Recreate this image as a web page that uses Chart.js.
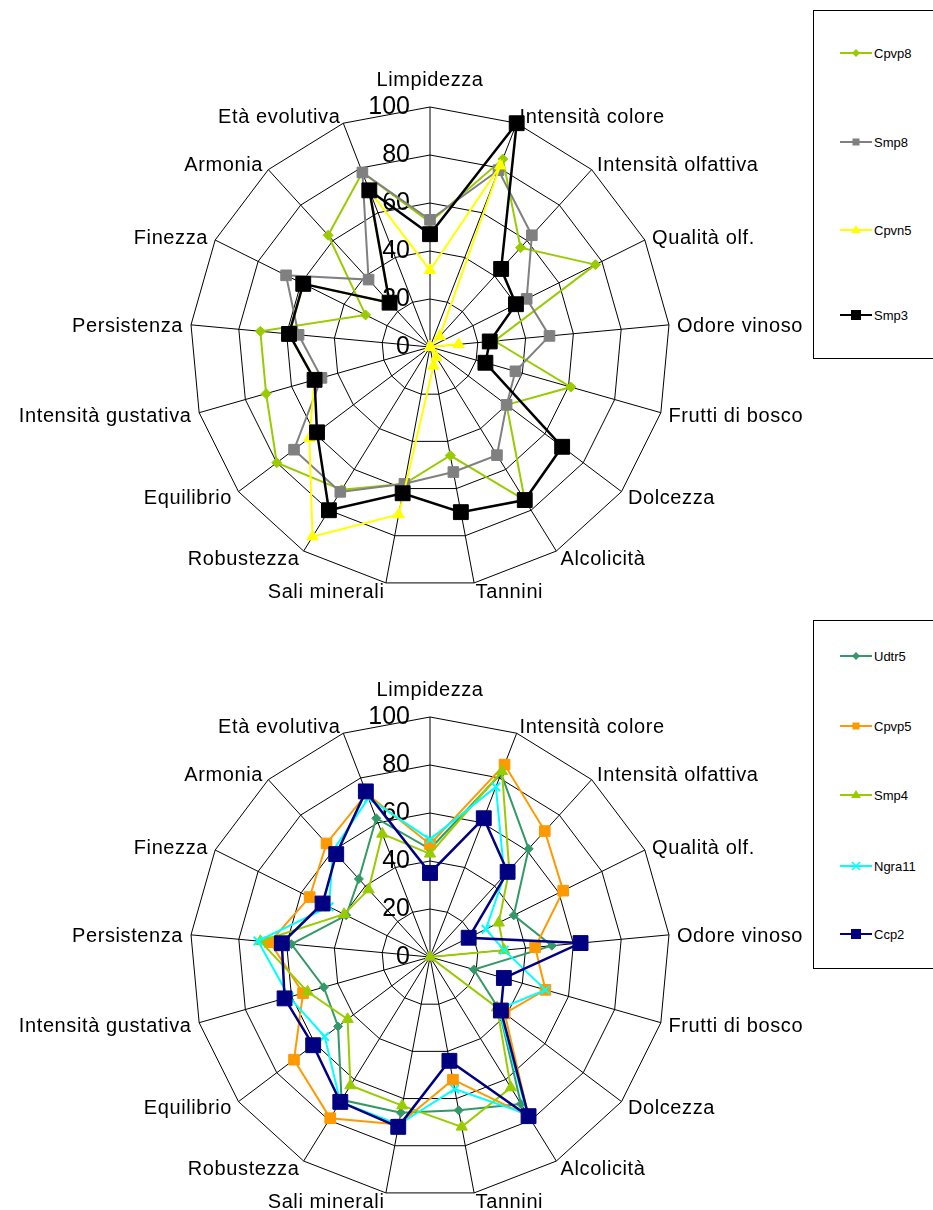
<!DOCTYPE html>
<html>
<head>
<meta charset="utf-8">
<script src="https://cdn.jsdelivr.net/npm/chart.js@4"></script>
<style>
  html, body { margin: 0; padding: 0; background: #fff; overflow: hidden; }
  body { width: 933px; height: 1210px; position: relative; font-family: "Liberation Sans", Arial, sans-serif; }
  canvas { position: absolute; left: 0; }
  .legend { position: absolute; left: 813px; width: 160px; border: 1px solid #000; background: #fff; }
  .item { position: absolute; left: 26px; height: 16px; display: flex; align-items: center; font-size: 13px; color: #000; }
  .item svg { margin-right: 2px; }
</style>
</head>
<body>
<canvas id="top-chart" width="933" height="605" style="top:0"></canvas>
<canvas id="bottom-chart" width="933" height="605" style="top:605px"></canvas>
<div class="legend" id="legend-top" style="top:10px;height:347px"></div>
<div class="legend" id="legend-bottom" style="top:620px;height:347px"></div>

<script>
// axes of the radar, clockwise from the top
const categories = ['Limpidezza', 'Intensità colore', 'Intensità olfattiva', 'Qualità olf.', 'Odore vinoso',
  'Frutti di bosco', 'Dolcezza', 'Alcolicità', 'Tannini', 'Sali minerali', 'Robustezza', 'Equilibrio',
  'Intensità gustativa', 'Persistenza', 'Finezza', 'Armonia', 'Età evolutiva'];
const tickValues = [0, 20, 40, 60, 80, 100];

// top chart
const cpvp8 = [52, 84, 56, 77, 27, 61, 40, 75, 46, 58, 70, 80, 71, 71, 30, 63, 78];
const smp8  = [53, 79, 63, 45, 50, 37, 40, 53, 53, 58, 71, 71, 47, 55, 67, 38, 78];
const cpvn5 = [32, 81, 6, 0, 12, 0, 0, 5, 8, 71, 93, 63, 50, 59, 59, 25, 70];
const smp3  = [47, 100, 44, 40, 25, 24, 69, 75, 70, 62, 80, 59, 50, 59, 59, 25, 70];

// bottom chart
const udtr5  = [45, 82, 61, 39, 51, 19, 36, 72, 65, 66, 70, 48, 46, 58, 39, 44, 62];
const cpvp5  = [47, 86, 71, 62, 44, 50, 39, 78, 52, 71, 79, 71, 55, 67, 56, 64, 73];
const smp4   = [43, 83, 49, 32, 31, 0, 35, 64, 72, 63, 63, 43, 53, 71, 40, 38, 55];
const ngra11 = [49, 76, 46, 26, 31, 50, 36, 77, 56, 71, 71, 55, 61, 72, 47, 60, 71];
const ccp2   = [35, 62, 48, 18, 63, 32, 37, 78, 44, 72, 71, 61, 63, 62, 50, 58, 74];

const topSeries = [
  { name: 'Cpvp8', data: cpvp8, color: '#99cc00', style: 'rectRot', r: 5, w: 2 },
  { name: 'Smp8', data: smp8, color: '#808080', style: 'rect', r: 7.5, w: 2 },
  { name: 'Cpvn5', data: cpvn5, color: '#ffff00', style: 'triangle', r: 6.5, w: 2 },
  { name: 'Smp3', data: smp3, color: '#000000', style: 'rect', r: 10.5, w: 2.5 }
];
const bottomSeries = [
  { name: 'Udtr5', data: udtr5, color: '#339966', style: 'rectRot', r: 4.5, w: 2 },
  { name: 'Cpvp5', data: cpvp5, color: '#ff9900', style: 'rect', r: 7.5, w: 2 },
  { name: 'Smp4', data: smp4, color: '#99cc00', style: 'triangle', r: 6.5, w: 2 },
  { name: 'Ngra11', data: ngra11, color: '#00ffff', style: 'crossRot', r: 6, w: 2 },
  { name: 'Ccp2', data: ccp2, color: '#000080', style: 'rect', r: 10.5, w: 2.5 }
];

// axis names and the 0..100 ticks, drawn under the series
const axisText = {
  id: 'axisText',
  beforeDatasetsDraw(chart) {
    const s = chart.scales.r;
    const ctx = chart.ctx;
    ctx.save();
    ctx.fillStyle = '#000';
    ctx.textBaseline = 'middle';
    ctx.font = '20px "Liberation Sans", Arial, sans-serif';
    ctx.letterSpacing = '0.6px';
    categories.forEach((lab, i) => {
      const p = s.getPointPosition(i, s.drawingArea + 8);
      const dx = p.x - s.xCenter;
      ctx.textAlign = Math.abs(dx) < 4 ? 'center' : (dx > 0 ? 'left' : 'right');
      ctx.fillText(lab, p.x, i === 0 ? p.y - 19 : p.y + 2);
    });
    ctx.letterSpacing = '0px';
    ctx.font = '25px "Liberation Sans", Arial, sans-serif';
    ctx.textAlign = 'right';
    tickValues.forEach(v => {
      ctx.fillText(String(v), s.xCenter - 20, s.yCenter - s.getDistanceFromCenterForValue(v));
    });
    ctx.restore();
  }
};

function makeRadar(id, series, pad) {
  const n = series.length;
  return new Chart(document.getElementById(id), {
    type: 'radar',
    data: {
      labels: categories,
      datasets: series.map((s, i) => ({
        label: s.name,
        data: s.data,
        order: n - i,
        borderColor: s.color,
        backgroundColor: s.color,
        borderWidth: s.w,
        fill: false,
        tension: 0,
        pointStyle: s.style,
        pointRadius: s.r,
        pointBorderWidth: s.style === 'crossRot' ? 2 : 1,
        pointBorderColor: s.color,
        pointBackgroundColor: s.color
      }))
    },
    options: {
      responsive: false,
      animation: false,
      events: [],
      layout: { padding: pad },
      plugins: { legend: { display: false }, tooltip: { enabled: false } },
      scales: {
        r: {
          min: 0,
          max: 100,
          ticks: { stepSize: 20, display: false },
          grid: { color: '#000', lineWidth: 1 },
          angleLines: { color: '#000', lineWidth: 1 },
          pointLabels: { display: false }
        }
      }
    },
    plugins: [axisText]
  });
}

function markerSvg(s) {
  const c = s.color;
  let m = '';
  if (s.style === 'rect') {
    const h = s.r > 9 ? 5 : 3.5;
    m = `<rect x="${16 - h}" y="${8 - h}" width="${2 * h}" height="${2 * h}" fill="${c}"/>`;
  } else if (s.style === 'rectRot') {
    m = `<polygon points="16,4 20,8 16,12 12,8" fill="${c}"/>`;
  } else if (s.style === 'triangle') {
    m = `<polygon points="16,3 21,11 11,11" fill="${c}"/>`;
  } else {
    m = `<path d="M12,4 L20,12 M20,4 L12,12" stroke="${c}" stroke-width="1.5"/>`;
  }
  return `<svg width="32" height="16"><line x1="0" y1="8" x2="32" y2="8" stroke="${c}" stroke-width="2"/>${m}</svg>`;
}

function makeLegend(id, series, rows) {
  const box = document.getElementById(id);
  series.forEach((s, i) => {
    const d = document.createElement('div');
    d.className = 'item';
    d.style.top = (rows[i] - 8) + 'px';
    d.innerHTML = markerSvg(s) + '<span>' + s.name + '</span>';
    box.appendChild(d);
  });
}

makeRadar('top-chart', topSeries, { left: 190, right: 263, top: 107, bottom: 18 });
makeRadar('bottom-chart', bottomSeries, { left: 190, right: 263, top: 112, bottom: 13 });

makeLegend('legend-top', topSeries, [42, 131, 219, 304]);
makeLegend('legend-bottom', bottomSeries, [35, 105, 174, 245, 313]);
</script>
</body>
</html>
